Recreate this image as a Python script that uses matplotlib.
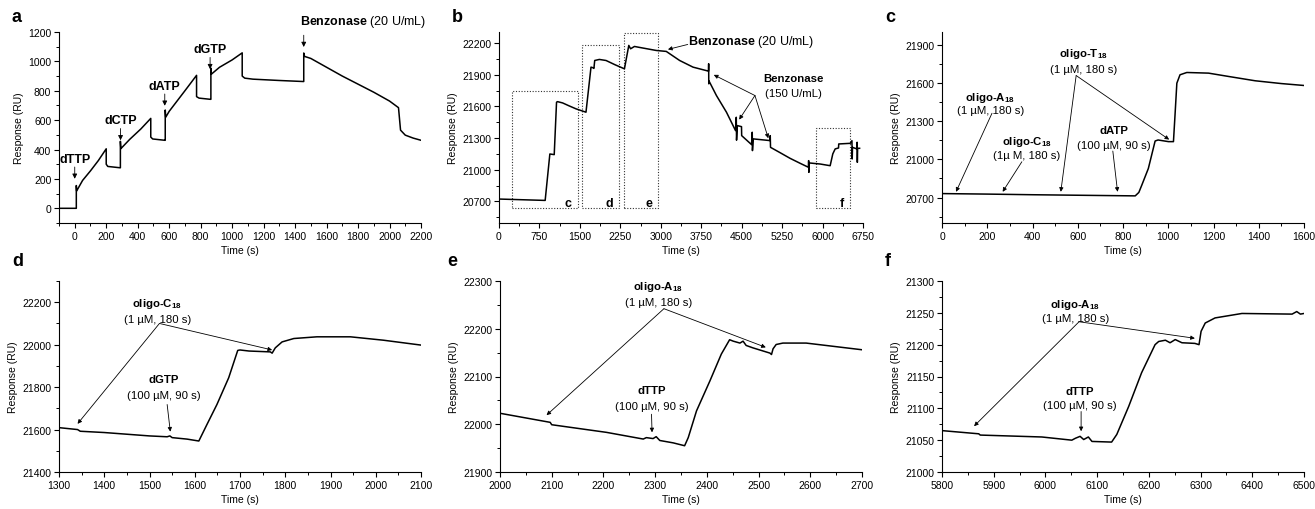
import matplotlib.pyplot as plt
from matplotlib.patches import Rectangle
from matplotlib.ticker import MultipleLocator

plt.rcParams['font.family'] = ['Liberation Sans', 'DejaVu Sans']
plt.rcParams['mathtext.fontset'] = 'custom'
plt.rcParams['mathtext.rm'] = 'Liberation Sans'
plt.rcParams['mathtext.bf'] = 'Liberation Sans:bold'
plt.rcParams['mathtext.it'] = 'Liberation Sans:italic'

# ---- panel a: stepwise dNTP injections ----
a_time = [-100, 10, 10, 12, 50, 100, 150, 200, 200, 210, 287, 290, 290, 293, 350, 420, 483,
          483, 495, 572, 575, 575, 578, 600, 650, 700, 774, 774, 790, 860, 865, 865, 868,
          920, 1000, 1064, 1064, 1080, 1132, 1300, 1451, 1455, 1455, 1460, 1500, 1600,
          1700, 1800, 1900, 2000, 2057, 2060, 2070, 2100, 2150, 2200]
a_resp = [0, 0, 155, 118, 190, 255, 325, 405, 300, 285, 276, 276, 456, 406, 470, 540, 612,
          485, 472, 463, 463, 669, 620, 660, 730, 800, 905, 760, 750, 742, 742, 954, 913,
          960, 1010, 1058, 900, 886, 879, 870, 863, 863, 1057, 1034, 1020, 960,
          900, 845, 790, 730, 685, 650, 532, 498, 478, 463]

# ---- panel b: whole run ----
b_time = [0, 856, 943, 1024, 1067, 1086, 1179, 1300, 1427, 1613,
          1706, 1750, 1760, 1775, 1861, 1985, 2150, 2326, 2407, 2440,
          2512, 2605, 2916, 3102, 3350, 3598, 3885, 3888, 3890, 3895,
          4032, 4218, 4386, 4400, 4405, 4420, 4497, 4500, 4683, 4696,
          4700, 4715, 5025, 5030, 5035, 5200, 5397, 5583, 5738, 5742,
          5746, 5755, 5955, 6141, 6190, 6234, 6296, 6300, 6514, 6545,
          6550, 6555, 6637, 6641, 6645, 6650, 6687]
b_resp = [20722, 20709, 21149, 21143, 21640, 21645, 21633, 21605, 21577, 21545,
          21972, 21965, 21960, 22035, 22045, 22035, 21995, 21956, 22178, 22146,
          22168, 22159, 22130, 22121, 22035, 21972, 21934, 22004, 21814, 21840,
          21703, 21545, 21371, 21497, 21280, 21418, 21408, 21323, 21238, 21355,
          21181, 21292, 21276, 21323, 21212, 21165, 21108, 21061, 21023, 21086,
          20975, 21064, 21054, 21038, 21150, 21197, 21206, 21244, 21250, 21275,
          21102, 21212, 21197, 21260, 21070, 21203, 21203]
# zoom boxes drawn on panel b: label, t0, t1, bottom, top
box_labels = ['c', 'd', 'e', 'f']
box_t0 = [248, 1538, 2326, 5881]
box_t1 = [1458, 2233, 2947, 6501]
box_bottom = [20634, 20634, 20634, 20634]
box_top = [21744, 22178, 22298, 21393]

# ---- panel c ----
c_time = [0, 200, 400, 600, 854, 870, 883, 912, 942, 955, 1001, 1023, 1030, 1038, 1052,
          1082, 1178, 1266, 1384, 1500, 1600]
c_resp = [20731, 20727, 20722, 20718, 20713, 20740, 20797, 20928, 21144, 21152, 21139,
          21139, 21350, 21598, 21664, 21682, 21677, 21651, 21617, 21595, 21580]

# ---- panel d ----
d_time = [1300, 1341, 1347, 1400, 1500, 1539, 1545, 1550, 1583, 1609, 1627, 1649, 1675,
          1695, 1700, 1720, 1767, 1771, 1778, 1793, 1819, 1870, 1944, 2017, 2100]
d_resp = [21609, 21600, 21592, 21586, 21570, 21566, 21570, 21562, 21555, 21546, 21624,
          21718, 21844, 21973, 21975, 21970, 21966, 21960, 21985, 22013, 22029, 22037,
          22037, 22021, 21998]

# ---- panel e ----
e_time = [2000, 2097, 2100, 2206, 2277, 2283, 2296, 2302, 2309, 2335, 2357, 2364, 2380,
          2406, 2428, 2444, 2451, 2464, 2470, 2476, 2489, 2522, 2525, 2528, 2534, 2547,
          2592, 2700]
e_resp = [22023, 22004, 21999, 21983, 21969, 21972, 21970, 21974, 21966, 21961, 21955,
          21972, 22028, 22091, 22147, 22177, 22174, 22170, 22174, 22165, 22160, 22149,
          22146, 22158, 22167, 22170, 22170, 22156]

# ---- panel f ----
f_time = [5800, 5871, 5874, 5993, 6051, 6058, 6067, 6074, 6083, 6090, 6128, 6138, 6161,
          6186, 6212, 6219, 6232, 6241, 6251, 6264, 6289, 6297, 6301, 6309, 6328, 6380,
          6477, 6486, 6493, 6500]
f_resp = [21065, 21060, 21058, 21055, 21050, 21053, 21056, 21051, 21055, 21048, 21047,
          21059, 21103, 21156, 21200, 21205, 21207, 21203, 21208, 21203, 21202, 21200,
          21221, 21234, 21242, 21249, 21248, 21252, 21248, 21249]

FS = 7.5
AFS = 8.2


def style_axes(ax, xlim, ylim, xmaj, ymaj):
    ax.set_xlim(*xlim)
    ax.set_ylim(*ylim)
    ax.xaxis.set_major_locator(MultipleLocator(xmaj))
    ax.xaxis.set_minor_locator(MultipleLocator(xmaj / 2))
    ax.yaxis.set_major_locator(MultipleLocator(ymaj))
    ax.yaxis.set_minor_locator(MultipleLocator(ymaj / 2))
    for s in ['top', 'right']:
        ax.spines[s].set_visible(False)
    for s in ['left', 'bottom']:
        ax.spines[s].set_linewidth(0.8)
    ax.tick_params(which='major', direction='out', length=3.5, width=0.8, labelsize=FS, pad=2)
    ax.tick_params(which='minor', direction='out', length=2, width=0.7)
    ax.set_xlabel('Time (s)', fontsize=FS, labelpad=3)
    ax.set_ylabel('Response (RU)', fontsize=FS, labelpad=3)


def arrow(ax, xy_from, xy_to, head=6):
    ax.annotate('', xy=xy_to, xytext=xy_from,
                arrowprops=dict(arrowstyle='-|>', color='black', lw=0.6,
                                mutation_scale=head, shrinkA=0, shrinkB=0))


def label2(ax, x, y1, y2, bold, normal):
    ax.text(x, y1, bold, fontsize=AFS, fontweight='bold', ha='center', va='center')
    ax.text(x, y2, normal, fontsize=AFS, ha='center', va='center')


fig = plt.figure(figsize=(13.15, 5.10), dpi=100)
W, H = 1315, 510


def make_axes(x0, x1, y0, y1):
    return fig.add_axes([x0 / W, 1 - y1 / H, (x1 - x0) / W, (y1 - y0) / H])


ax_a = make_axes(59, 421, 33, 224)
ax_b = make_axes(499, 863, 33, 224)
ax_c = make_axes(942, 1304, 33, 224)
ax_d = make_axes(59, 421, 282, 473)
ax_e = make_axes(500, 862, 282, 473)
ax_f = make_axes(942, 1304, 282, 473)

lw = 1.1
# ---- a ----
ax_a.plot(a_time, a_resp, color='black', lw=lw)
style_axes(ax_a, (-100, 2200), (-100, 1200), 200, 200)
for t, ytxt, name in [(0, 338, 'dTTP'), (291, 600, 'dCTP'), (572, 835, 'dATP'), (860, 1084, 'dGTP')]:
    ax_a.text(t, ytxt, name, fontsize=AFS + 0.8, fontweight='bold', ha='center', va='center')
    arrow(ax_a, (t, ytxt - 57), (t, ytxt - 137), head=7)
ax_a.text(1430, 1273, r'$\mathbf{Benzonase}$ (20 U/mL)', fontsize=AFS + 0.8,
          ha='left', va='center', clip_on=False)
arrow(ax_a, (1455, 1178), (1455, 1098), head=7)

# ---- b ----
ax_b.plot(b_time, b_resp, color='black', lw=lw)
style_axes(ax_b, (0, 6750), (20495, 22305), 750, 300)
for lab, t0, t1, bt, tp in zip(box_labels, box_t0, box_t1, box_bottom, box_top):
    ax_b.add_patch(Rectangle((t0, bt), t1 - t0, tp - bt, fill=False, ls=(0, (1, 1.5)),
                             lw=0.8, edgecolor='#333333'))
    ax_b.text(t1 - 110, bt + 55, lab, fontsize=AFS + 0.8, fontweight='bold',
              ha='right', va='center')
ax_b.text(3500, 22215, r'$\mathbf{Benzonase}$ (20 U/mL)', fontsize=AFS + 0.8,
          ha='left', va='center')
arrow(ax_b, (3500, 22187), (3133, 22140))
label2(ax_b, 5460, 21871, 21725, 'Benzonase', '(150 U/mL)')
for tgt in [(3983, 21899), (4454, 21475), (4994, 21298)]:
    arrow(ax_b, (4746, 21703), tgt)

# ---- c ----
ax_c.plot(c_time, c_resp, color='black', lw=lw)
style_axes(ax_c, (0, 1600), (20500, 22000), 200, 300)
label2(ax_c, 213, 21493, 21388, r'oligo-A$_{\mathbf{18}}$', '(1 µM, 180 s)')
arrow(ax_c, (221, 21362), (62, 20745))
label2(ax_c, 375, 21144, 21034, r'oligo-C$_{\mathbf{18}}$', '(1µ M, 180 s)')
arrow(ax_c, (353, 20981), (268, 20745))
label2(ax_c, 626, 21834, 21711, r'oligo-T$_{\mathbf{18}}$', '(1 µM, 180 s)')
arrow(ax_c, (593, 21658), (525, 20745))
arrow(ax_c, (593, 21658), (1004, 21155))
label2(ax_c, 758, 21230, 21112, 'dATP', '(100 µM, 90 s)')
arrow(ax_c, (755, 21065), (776, 20745))

# ---- d ----
ax_d.plot(d_time, d_resp, color='black', lw=lw)
style_axes(ax_d, (1300, 2100), (21400, 22300), 100, 200)
label2(ax_d, 1517, 22197, 22123, r'oligo-C$_{\mathbf{18}}$', '(1 µM, 180 s)')
arrow(ax_d, (1522, 22100), (1341, 21627))
arrow(ax_d, (1522, 22100), (1771, 21975))
label2(ax_d, 1531, 21836, 21765, 'dGTP', '(100 µM, 90 s)')
arrow(ax_d, (1539, 21718), (1546, 21590))

# ---- e ----
ax_e.plot(e_time, e_resp, color='black', lw=lw)
style_axes(ax_e, (2000, 2700), (21900, 22300), 100, 100)
label2(ax_e, 2306, 22289, 22256, r'oligo-A$_{\mathbf{18}}$', '(1 µM, 180 s)')
arrow(ax_e, (2317, 22242), (2090, 22019))
arrow(ax_e, (2317, 22242), (2514, 22161))
label2(ax_e, 2293, 22072, 22039, 'dTTP', '(100 µM, 90 s)')
arrow(ax_e, (2293, 22021), (2294, 21983))

# ---- f ----
ax_f.plot(f_time, f_resp, color='black', lw=lw)
style_axes(ax_f, (5800, 6500), (21000, 21300), 100, 50)
label2(ax_f, 6058, 21264, 21242, r'oligo-A$_{\mathbf{18}}$', '(1 µM, 180 s)')
arrow(ax_f, (6065, 21236), (5862, 21072))
arrow(ax_f, (6065, 21236), (6289, 21210))
label2(ax_f, 6067, 21128, 21105, 'dTTP', '(100 µM, 90 s)')
arrow(ax_f, (6069, 21095), (6069, 21064))

# panel letters
for lab, px, py in [('a', 17, 18), ('b', 457, 18), ('c', 890, 18),
                    ('d', 18, 262), ('e', 452, 262), ('f', 888, 262)]:
    fig.text(px / W, 1 - py / H, lab, fontsize=13, fontweight='bold', ha='center', va='center')

fig.savefig('out.png', dpi=100)
